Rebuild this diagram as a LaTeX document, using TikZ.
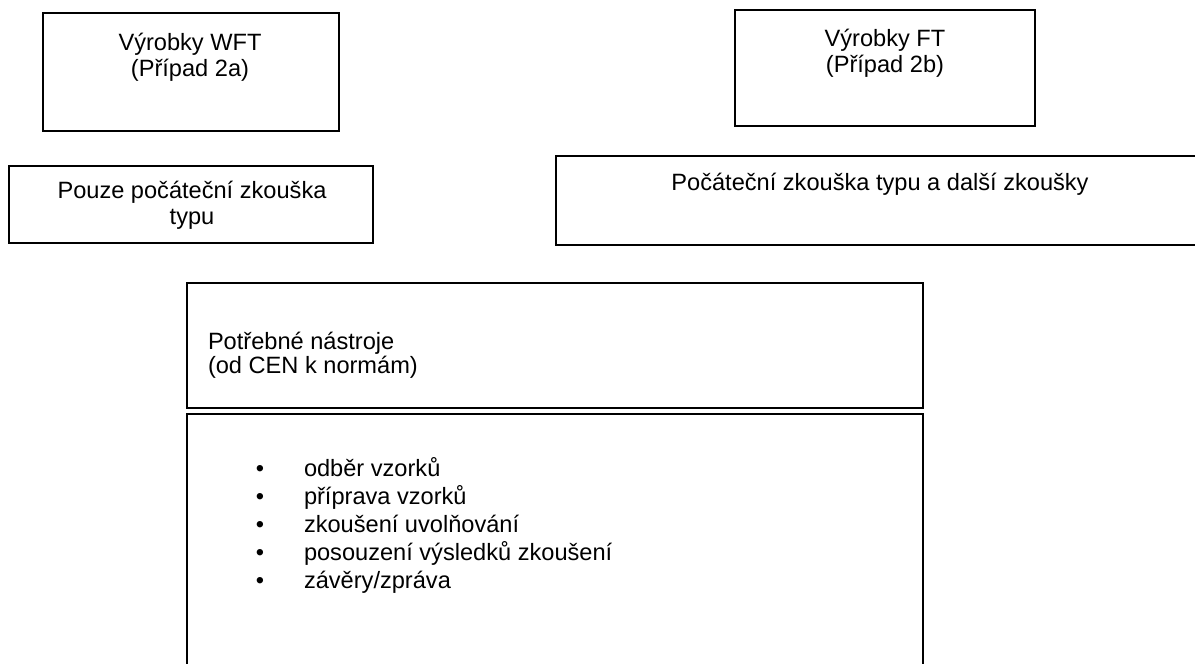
\documentclass[tikz,border=0pt]{standalone}
\usepackage{fontspec}
\setmainfont{Liberation Sans}
\begin{document}
\begin{tikzpicture}[x=1pt,y=-1pt,
  box/.style={draw=black, line width=1.8pt, inner sep=0pt, outer sep=0pt, anchor=north west},
  txt/.style={inner sep=0pt, outer sep=0pt, font=\fontsize{23.6}{26}\selectfont},
  ctxt/.style={txt, anchor=base},
  ltxt/.style={txt, anchor=base west},
  bul/.style={txt, anchor=base}]
\useasboundingbox (0,0) rectangle (1195,664);
\clip (0,0) rectangle (1195,664);
% boxes
\node (wft) [box, minimum width=296pt, minimum height=118pt] at (43,13) {};
\node (pouze) [box, minimum width=364pt, minimum height=77pt] at (9,166) {};
\node (ft) [box, minimum width=300pt, minimum height=116pt] at (735,10) {};
\node (pocat) [box, minimum width=650pt, minimum height=89pt] at (556,156) {};
\node (nastroje) [box, minimum width=736pt, minimum height=125pt] at (187,283) {};
\node (seznam) [box, minimum width=736pt, minimum height=300pt] at (187,414) {};
% texts
\node (t1a) [ctxt] at (190,50) {Výrobky WFT};
\node (t1b) [ctxt] at (190,76) {(Případ 2a)};
\node (t2a) [ctxt] at (192,198) {Pouze počáteční zkouška};
\node (t2b) [ctxt] at (192,224) {typu};
\node (t3a) [ctxt] at (885,46) {Výrobky FT};
\node (t3b) [ctxt] at (885,72) {(Případ 2b)};
\node (t4) [ctxt] at (880,190) {Počáteční zkouška typu a další zkoušky};
\node (t5a) [ltxt] at (208,349) {Potřebné nástroje};
\node (t5b) [ltxt] at (208,373) {(od CEN k normám)};
% bullet list
\node (b1) [bul] at (260,476) {•};
\node (l1) [ltxt] at (304,476) {odběr vzorků};
\node (b2) [bul] at (260,504) {•};
\node (l2) [ltxt] at (304,504) {příprava vzorků};
\node (b3) [bul] at (260,532) {•};
\node (l3) [ltxt] at (304,532) {zkoušení uvolňování};
\node (b4) [bul] at (260,560) {•};
\node (l4) [ltxt] at (304,560) {posouzení výsledků zkoušení};
\node (b5) [bul] at (260,588) {•};
\node (l5) [ltxt] at (304,588) {závěry/zpráva};
\end{tikzpicture}
\end{document}
